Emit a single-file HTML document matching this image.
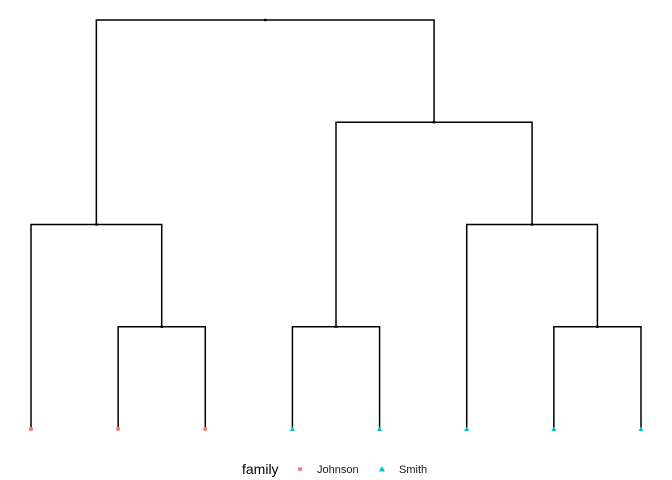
<!DOCTYPE html>
<html><head><meta charset="utf-8"><style>
html,body{margin:0;padding:0;background:#fff;}
svg{display:block;font-family:"Liberation Sans",Arial,sans-serif;}
</style></head><body>
<svg id="chart" width="672" height="480">
<g id="links"></g>
<g id="nodes"></g>
<g id="leaves"></g>
<g>
<text x="242" y="474" font-size="14" fill="#000">family</text>
<circle cx="300" cy="469" r="2" fill="#F8766D"></circle>
<text x="317" y="473" font-size="11" fill="#1a1a1a">Johnson</text>
<polygon points="382,466 385,471.5 379,471.5" fill="#00BFC4"></polygon>
<text x="399" y="473" font-size="11" fill="#1a1a1a">Smith</text>
</g>
</svg>
<script>
const leafFamilies = ["Johnson","Johnson","Johnson","Smith","Smith","Smith","Smith","Smith"];
// merges: [left child, right child, height]; negative = leaf index (-(i+1)), positive = merge index (1-based)
const mergeLeft  = [-2, -1, -4, -7, -6, 3, 2];
const mergeRight = [-3,  1, -5, -8,  4, 5, 6];
const mergeHeight = [1, 2, 1, 1, 2, 3, 4];

const x = i => 31 + i * (641 - 31) / (leafFamilies.length - 1);
const y = h => 429 - h * (429 - 20) / 4;
const NS = "http://www.w3.org/2000/svg";
const links = document.getElementById('links'), nodes = document.getElementById('nodes'), leaves = document.getElementById('leaves');
const pos = [];
function getPos(c){ return c < 0 ? {x: x(-c-1), h: 0} : pos[c-1]; }
mergeHeight.forEach((h, k) => {
  const a = getPos(mergeLeft[k]), b = getPos(mergeRight[k]);
  const mx = (a.x + b.x) / 2;
  pos.push({x: mx, h: h});
  const p = document.createElementNS(NS, 'path');
  p.setAttribute('d', `M${a.x},${y(a.h)}V${y(h)}H${b.x}V${y(b.h)}`);
  p.setAttribute('fill', 'none'); p.setAttribute('stroke', '#000'); p.setAttribute('stroke-width', '1.5');
  
  
  links.appendChild(p);
  const r = document.createElementNS(NS, 'rect');
  r.setAttribute('x', mx - 1.2); r.setAttribute('y', y(h) - 1.2); r.setAttribute('width', 2.4); r.setAttribute('height', 2.4);
  r.setAttribute('fill', '#000');
  
  
  nodes.appendChild(r);
});
leafFamilies.forEach((f, i) => {
  const cx = x(i), cy = y(0);
  let el;
  if (f === 'Johnson') {
    el = document.createElementNS(NS, 'circle');
    el.setAttribute('cx', cx); el.setAttribute('cy', cy); el.setAttribute('r', 2);
    el.setAttribute('fill', '#F8766D');
  } else {
    el = document.createElementNS(NS, 'polygon');
    el.setAttribute('points', `${cx},${cy-2.5} ${cx+2.5},${cy+2} ${cx-2.5},${cy+2}`);
    el.setAttribute('fill', '#00BFC4');
  }
  
  
  leaves.appendChild(el);
});
</script>
</body></html>
